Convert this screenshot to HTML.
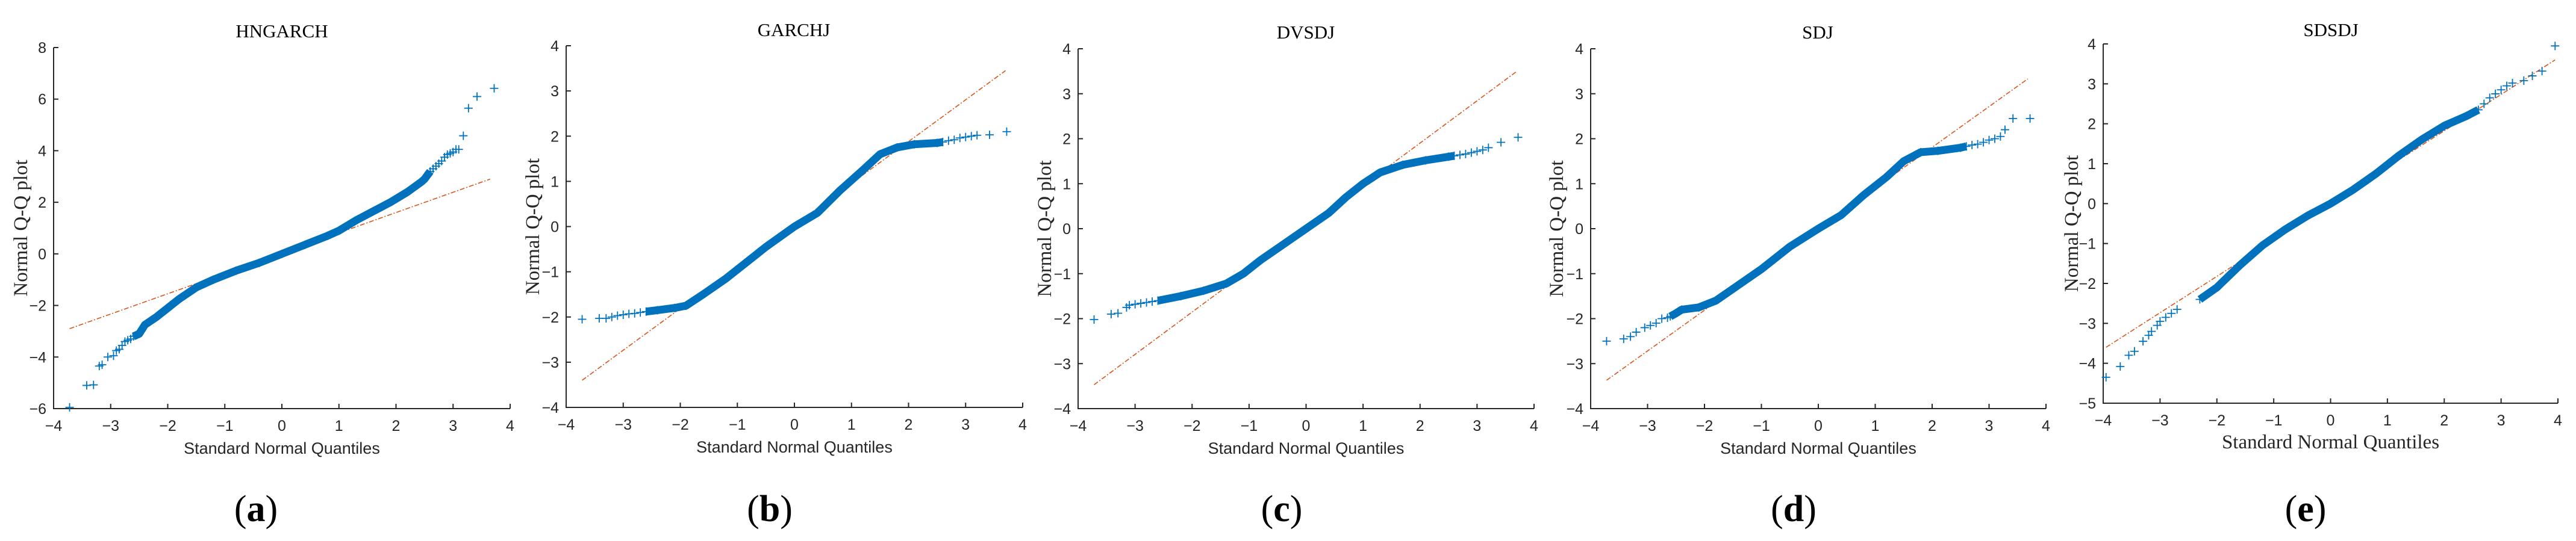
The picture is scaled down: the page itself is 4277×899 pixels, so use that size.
<!DOCTYPE html>
<html><head><meta charset="utf-8"><style>
html,body{margin:0;padding:0;background:#fff;}
svg{display:block;}
</style></head><body>
<svg id="fig" width="4277" height="899" viewBox="0 0 4277 899" xmlns="http://www.w3.org/2000/svg"></svg>
<script>
// ---- data ----
const panelTitles = ["HNGARCH","GARCHJ","DVSDJ","SDJ","SDSDJ"];
const panelLetters = ["a","b","c","d","e"];
const yTicksA = [-6,-4,-2,0,2,4,6,8];
const yTicksBCD = [-4,-3,-2,-1,0,1,2,3,4];
const yTicksE = [-5,-4,-3,-2,-1,0,1,2,3,4];
const xTicks = [-4,-3,-2,-1,0,1,2,3,4];

const qxA = [-3.72,-3.42,-3.3,-3.2,-3.15,-3.05,-2.95,-2.9,-2.85,-2.8,-2.75,-2.7,-2.65,-2.6,-2.55,-2.5,-2.4,-2.2,-2.0,-1.8,-1.5,-1.2,-0.8,-0.4,0,0.4,0.8,1.0,1.3,1.6,1.9,2.2,2.45,2.5,2.55,2.6,2.65,2.7,2.75,2.8,2.85,2.9,2.95,3.0,3.05,3.1,3.18,3.27,3.42,3.72];
const qyA = [-5.95,-5.1,-5.08,-4.35,-4.3,-4.0,-3.95,-3.75,-3.7,-3.55,-3.4,-3.35,-3.3,-3.2,-3.15,-3.1,-2.75,-2.45,-2.1,-1.75,-1.3,-1.0,-0.65,-0.35,0,0.35,0.7,0.9,1.3,1.65,2.0,2.4,2.8,2.9,3.05,3.2,3.3,3.4,3.5,3.6,3.75,3.85,3.9,3.95,4.05,4.05,4.58,5.65,6.1,6.42];
const qxB = [-3.72,-3.42,-3.3,-3.2,-3.1,-3.0,-2.9,-2.8,-2.7,-2.6,-2.4,-2.1,-1.9,-1.6,-1.2,-0.9,-0.5,0,0.4,0.8,1.2,1.5,1.8,2.1,2.5,2.6,2.7,2.8,2.9,3.0,3.1,3.2,3.42,3.72];
const qyB = [-2.05,-2.03,-2.03,-2.0,-1.97,-1.95,-1.93,-1.92,-1.9,-1.88,-1.85,-1.8,-1.75,-1.5,-1.15,-0.85,-0.45,0,0.3,0.8,1.25,1.6,1.75,1.82,1.85,1.87,1.9,1.92,1.96,1.98,2.0,2.02,2.03,2.1];
const qxC = [-3.72,-3.42,-3.3,-3.15,-3.1,-3.0,-2.9,-2.8,-2.7,-2.6,-2.2,-1.8,-1.4,-1.1,-0.8,-0.4,0,0.4,0.7,1.0,1.3,1.7,2.1,2.5,2.6,2.7,2.8,2.9,3.0,3.1,3.2,3.42,3.72];
const qyC = [-2.02,-1.9,-1.88,-1.75,-1.7,-1.68,-1.66,-1.64,-1.62,-1.6,-1.5,-1.38,-1.22,-1.0,-0.7,-0.35,0,0.35,0.7,1.0,1.25,1.42,1.52,1.6,1.62,1.64,1.66,1.69,1.72,1.75,1.8,1.92,2.03];
const qxD = [-3.72,-3.42,-3.3,-3.2,-3.05,-2.95,-2.85,-2.75,-2.65,-2.6,-2.5,-2.4,-2.1,-1.8,-1.4,-1.0,-0.5,0,0.4,0.8,1.2,1.5,1.8,2.1,2.5,2.6,2.7,2.8,2.9,3.0,3.1,3.2,3.28,3.42,3.72];
const qyD = [-2.5,-2.45,-2.4,-2.3,-2.2,-2.15,-2.1,-2.0,-1.98,-1.95,-1.88,-1.8,-1.75,-1.6,-1.25,-0.9,-0.4,0,0.3,0.75,1.15,1.5,1.7,1.73,1.8,1.83,1.86,1.88,1.92,1.97,2.0,2.05,2.2,2.45,2.45];
const qxE = [-3.95,-3.7,-3.55,-3.45,-3.3,-3.2,-3.15,-3.05,-3.0,-2.9,-2.8,-2.7,-2.3,-2.0,-1.6,-1.2,-0.8,-0.4,0,0.4,0.8,1.2,1.6,2.0,2.4,2.6,2.7,2.8,2.9,3.0,3.1,3.2,3.4,3.55,3.72,3.95];
const qyE = [-4.35,-4.08,-3.8,-3.7,-3.45,-3.3,-3.2,-3.05,-2.95,-2.85,-2.75,-2.65,-2.4,-2.1,-1.55,-1.05,-0.65,-0.3,0,0.35,0.75,1.2,1.6,1.95,2.2,2.35,2.5,2.65,2.75,2.85,2.95,3.02,3.08,3.2,3.32,3.95];

const refX0 = [-3.72,-3.72,-3.72,-3.72,-3.95];
const refY0 = [-2.9,-3.4,-3.47,-3.37,-3.6];
const refX1 = [3.65,3.7,3.7,3.68,3.95];
const refY1 = [2.9,3.45,3.5,3.33,3.6];

// ---- layout (not data) ----
const layout = [
 {l:89,r:847,t:79,b:679,ymin:-6,ymax:8,yt:yTicksA,qx:qxA,qy:qyA,title:468,tY:62,ylx:34,lab:425,xlSerif:false},
 {l:940,r:1698,t:76,b:677,ymin:-4,ymax:4,yt:yTicksBCD,qx:qxB,qy:qyB,title:1318,tY:60,ylx:884,lab:1278,xlSerif:false},
 {l:1790,r:2547,t:81,b:679,ymin:-4,ymax:4,yt:yTicksBCD,qx:qxC,qy:qyC,title:2168,tY:64,ylx:1734,lab:2128,xlSerif:false},
 {l:2641,r:3397,t:81,b:679,ymin:-4,ymax:4,yt:yTicksBCD,qx:qxD,qy:qyD,title:3018,tY:64,ylx:2584,lab:2978,xlSerif:false},
 {l:3492,r:4247,t:73,b:670,ymin:-5,ymax:4,yt:yTicksE,qx:qxE,qy:qyE,title:3870,tY:60,ylx:3439,lab:3828,xlSerif:true}
];
const NS="http://www.w3.org/2000/svg";
const svg=document.getElementById('fig');
function mk(tag,attrs,parent){const e=document.createElementNS(NS,tag);for(const k in attrs)e.setAttribute(k,attrs[k]);(parent||svg).appendChild(e);return e;}
const SANS='"Liberation Sans", Arial, sans-serif', SERIF='"Liberation Serif", "Times New Roman", serif';
function fmt(v){return v<0?'\u2212'+Math.abs(v):String(v);}

layout.forEach((p,i)=>{
  const g=mk('g',{});
  
  
  const xs=v=>p.l+(v+4)/8*(p.r-p.l);
  const ys=v=>p.b-(v-p.ymin)/(p.ymax-p.ymin)*(p.b-p.t);
  const ax=mk('path',{d:`M${p.l},${p.t}V${p.b}H${p.r}`,fill:'none',stroke:'#262626','stroke-width':2},g);
  
  
  xTicks.forEach(v=>{
    const X=xs(v);
    mk('line',{x1:X,x2:X,y1:p.b,y2:p.b-8,stroke:'#262626','stroke-width':2},g);
    const t=mk('text',{x:X,y:p.b+37,'text-anchor':'middle','font-family':SANS,'font-size':25,fill:'#262626'},g);
    t.textContent=fmt(v);
    
    
  });
  p.yt.forEach(v=>{
    const Y=ys(v);
    mk('line',{x1:p.l,x2:p.l+8,y1:Y,y2:Y,stroke:'#262626','stroke-width':2},g);
    const t=mk('text',{x:p.l-12,y:Y+9,'text-anchor':'end','font-family':SANS,'font-size':25,fill:'#262626'},g);
    t.textContent=fmt(v);
    
    
  });
  const rl=mk('line',{x1:xs(refX0[i]),y1:ys(refY0[i]),x2:xs(refX1[i]),y2:ys(refY1[i]),stroke:'#D95319','stroke-width':1.6,'stroke-dasharray':'8,3,2,3'},g);
  
  
  const dense=[];
  p.qx.forEach((x,k)=>{ if(Math.abs(x)<=2.6) dense.push(xs(x)+','+ys(p.qy[k])); });
  const band=mk('polyline',{points:dense.join(' '),fill:'none',stroke:'#0072BD','stroke-width':13,'stroke-linejoin':'round','stroke-linecap':'butt'},g);
  
  
  p.qx.forEach((x,k)=>{
    const X=xs(x),Y=ys(p.qy[k]);
    const m=mk('path',{d:`M${X-7},${Y}H${X+7}M${X},${Y-7}V${Y+7}`,stroke:'#0072BD','stroke-width':1.8,fill:'none'},g);
    
    
  });
  const tt=mk('text',{x:p.title,y:p.tY,'text-anchor':'middle','font-family':SERIF,'font-size':31,fill:'#000'},g);
  tt.textContent=panelTitles[i];
  
  
  const xl=mk('text',{x:(p.l+p.r)/2,y:p.b+75,'text-anchor':'middle','font-family':p.xlSerif?SERIF:SANS,'font-size':p.xlSerif?33:27,fill:'#262626'},g);
  xl.textContent='Standard Normal Quantiles';
  
  
  const cy=(p.t+p.b)/2;
  const yl=mk('text',{x:p.ylx+11,y:cy,'text-anchor':'middle','font-family':SERIF,'font-size':33,fill:'#262626',transform:`rotate(-90 ${p.ylx+11} ${cy})`},g);
  yl.textContent='Normal Q-Q plot';
  
  
  const lb=mk('text',{x:p.lab,y:866,'text-anchor':'middle','font-family':SERIF,'font-size':62,fill:'#000'},g);
  lb.innerHTML='(<tspan font-weight="bold">'+panelLetters[i]+'</tspan>)';
  
  
});
</script>
</body></html>
